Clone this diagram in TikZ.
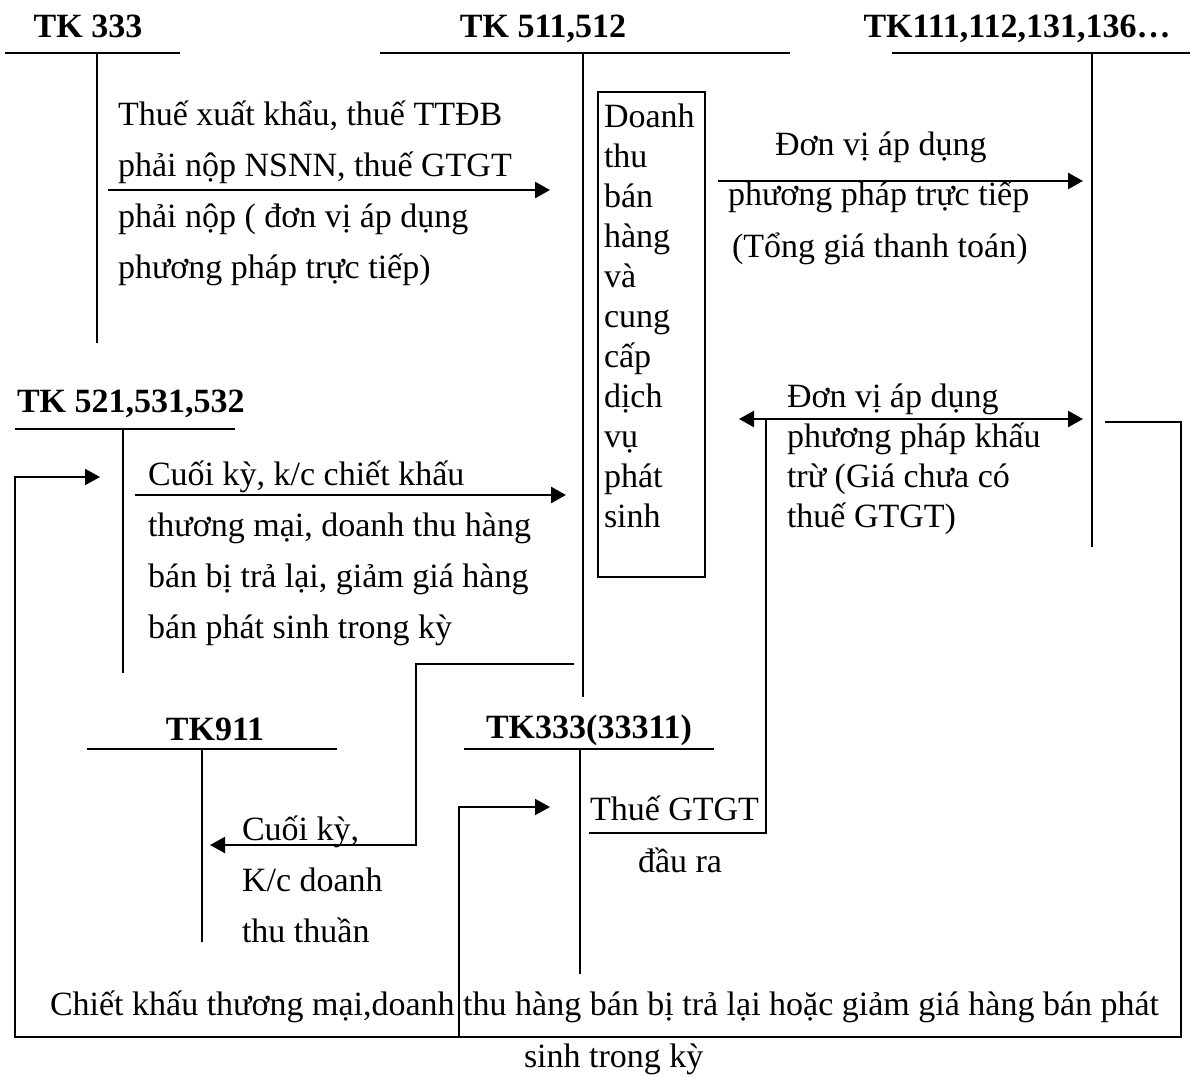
\documentclass[tikz,border=0pt]{standalone}
\usepackage{fontspec}
\setmainfont{Liberation Serif}
\usetikzlibrary{arrows.meta}
\begin{document}
\begin{tikzpicture}[x=1pt,y=-1pt,
  every node/.style={inner sep=0pt, outer sep=0pt},
  title/.style={anchor=base, font=\bfseries\fontsize{34}{40}\selectfont},
  % multi-line blocks are placed by the baseline of their last line
  body/.style={anchor=base west, align=left, font=\fontsize{34}{51}\selectfont},
  dense/.style={anchor=base west, align=left, font=\fontsize{34}{40}\selectfont},
  tline/.style={line width=2pt},
  flow/.style={line width=2.6pt, -{Triangle[length=15pt,width=16pt]}},
  flowboth/.style={line width=2.6pt, {Triangle[length=15pt,width=16pt]}-{Triangle[length=15pt,width=16pt]}},
  link/.style={line width=2pt},
  linkarrow/.style={line width=2pt, -{Triangle[length=15pt,width=16pt]}}
]
\useasboundingbox (0,0) rectangle (1190,1076);

% ---- T-accounts ----
% TK 333
\node[title] (t333) at (88,37) {TK 333};
\coordinate (t333l) at (5,53);   \coordinate (t333r) at (180,53);
\coordinate (t333a) at (97,53);  \coordinate (t333b) at (97,343);
\draw[tline] (t333l) -- (t333r);
\draw[tline] (t333a) -- (t333b);

% TK 511,512
\node[title] (t511) at (543,37) {TK 511,512};
\coordinate (t511l) at (380,53);  \coordinate (t511r) at (790,53);
\coordinate (t511a) at (583,53);  \coordinate (t511b) at (583,697);
\draw[tline] (t511l) -- (t511r);
\draw[tline] (t511a) -- (t511b);

% TK 111,112,131,136...
\node[title] (t111) at (1017,37) {TK111,112,131,136…};
\coordinate (t111l) at (892,53);  \coordinate (t111r) at (1190,53);
\coordinate (t111a) at (1092,53); \coordinate (t111b) at (1092,547);
\draw[tline] (t111l) -- (t111r);
\draw[tline] (t111a) -- (t111b);

% TK 521,531,532
\node[title, anchor=base west] (t521) at (17,412) {TK 521,531,532};
\coordinate (t521l) at (15,429);  \coordinate (t521r) at (235,429);
\coordinate (t521a) at (123,429); \coordinate (t521b) at (123,673);
\draw[tline] (t521l) -- (t521r);
\draw[tline] (t521a) -- (t521b);

% TK 911
\node[title] (t911) at (215,740) {TK911};
\coordinate (t911l) at (87,749);  \coordinate (t911r) at (337,749);
\coordinate (t911a) at (202,749); \coordinate (t911b) at (202,942);
\draw[tline] (t911l) -- (t911r);
\draw[tline] (t911a) -- (t911b);

% TK 333(33311)
\node[title] (t3331) at (589,738) {TK333(33311)};
\coordinate (t3331l) at (464,749); \coordinate (t3331r) at (714,749);
\coordinate (t3331a) at (580,749); \coordinate (t3331b) at (580,974);
\draw[tline] (t3331l) -- (t3331r);
\draw[tline] (t3331a) -- (t3331b);

% ---- revenue box ----
\node[draw, line width=2pt, anchor=north west, minimum width=107pt, minimum height=485pt] (rbox) at (598,92) {};
\node[dense] (rtext) at (604,527) {Doanh\\thu\\bán\\hàng\\và\\cung\\cấp\\dịch\\vụ\\phát\\sinh};

% ---- texts ----
\node[body] (x1) at (118,278) {Thuế xuất khẩu, thuế TTĐB\\phải nộp NSNN, thuế GTGT\\phải nộp ( đơn vị áp dụng\\phương pháp trực tiếp)};
\node[body] (x2a) at (775,155) {Đơn vị áp dụng};
\node[body] (x2b) at (728,205) {phương pháp trực tiếp};
\node[body] (x2c) at (732,257) {(Tổng giá thanh toán)};
\node[dense] (x3) at (787,527) {Đơn vị áp dụng\\phương pháp khấu\\trừ (Giá chưa có\\thuế GTGT)};
\node[body] (x4) at (148,638) {Cuối kỳ, k/c chiết khấu\\thương mại, doanh thu hàng\\bán bị trả lại, giảm giá hàng\\bán phát sinh trong kỳ};
\node[body] (x5) at (242,942) {Cuối kỳ,\\K/c doanh\\thu thuần};
\node[body] (x6a) at (590,820) {Thuế GTGT};
\node[body] (x6b) at (638,872) {đầu ra};
\node[body] (x7a) at (50,1015) {Chiết khấu thương mại,doanh thu hàng bán bị trả lại hoặc giảm giá hàng bán phát};
\node[body] (x7b) at (524,1067) {sinh trong kỳ};

% ---- connector end points ----
\coordinate (a1s) at (108,190);  \coordinate (a1e) at (550,190);
\coordinate (a2s) at (718,181);  \coordinate (a2e) at (1083,181);
\coordinate (a3s) at (739,419);  \coordinate (a3e) at (1083,419);
\coordinate (a4s) at (135,495);  \coordinate (a4e) at (566,495);
\coordinate (k1) at (574,664);   \coordinate (k2) at (416,664);
\coordinate (k3) at (416,845);   \coordinate (k4) at (210,845);
\coordinate (g1) at (589,833);   \coordinate (g2) at (766,833);
\coordinate (g3) at (766,419);
\coordinate (r1) at (1105,422);  \coordinate (r2) at (1181,422);
\coordinate (r3) at (1181,1037); \coordinate (r4) at (15,1037);
\coordinate (r5) at (15,477);    \coordinate (r6) at (100,477);
\coordinate (b1) at (459,1037);  \coordinate (b2) at (459,807);
\coordinate (b3) at (550,807);

% ---- connectors ----
\draw[flow] (a1s) -- (a1e);
\draw[flow] (a2s) -- (a2e);
\draw[flowboth] (a3s) -- (a3e);
\draw[flow] (a4s) -- (a4e);
\draw[linkarrow] (k1) -- (k2) -- (k3) -- (k4);
\draw[link] (g1) -- (g2) -- (g3);
\draw[linkarrow] (r1) -- (r2) -- (r3) -- (r4) -- (r5) -- (r6);
\draw[linkarrow] (b1) -- (b2) -- (b3);
\end{tikzpicture}
\end{document}
